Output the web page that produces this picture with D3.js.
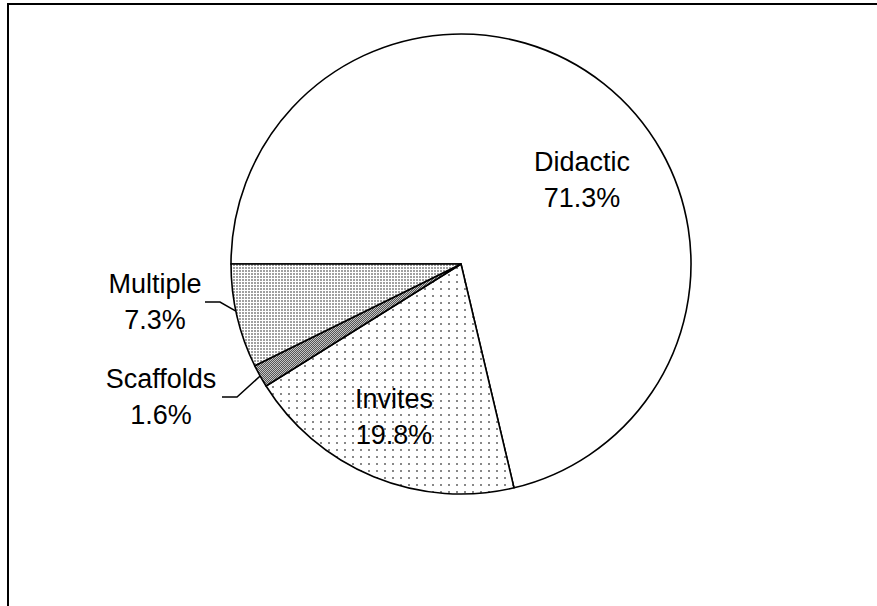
<!DOCTYPE html>
<html>
<head>
<meta charset="utf-8">
<script src="https://cdn.jsdelivr.net/npm/d3@7"></script>
<style>
html,body{margin:0;padding:0;background:#fff;}
svg{display:block;}
text{font-family:"Liberation Sans",Arial,sans-serif;fill:#000;}
</style>
</head>
<body>
<svg id="chart" width="877" height="606"></svg>
<script>
const categories = ["Didactic", "Invites", "Scaffolds", "Multiple"];
const values = [71.3, 19.8, 1.6, 7.3];
const valueLabels = ["71.3%", "19.8%", "1.6%", "7.3%"];

const W = 877, H = 606;
const cx = 461, cy = 264, R = 230;
const svg = d3.select("#chart");

// patterns
const defs = svg.append("defs");
const pMult = defs.append("pattern").attr("id","pMultiple").attr("patternUnits","userSpaceOnUse").attr("width",3).attr("height",3);
pMult.append("rect").attr("width",3).attr("height",3).attr("fill","#fff");
pMult.append("rect").attr("width",2).attr("height",2).attr("fill","#a0a0a0");

const pScaf = defs.append("pattern").attr("id","pScaffolds").attr("patternUnits","userSpaceOnUse").attr("width",2).attr("height",2);
pScaf.append("rect").attr("width",2).attr("height",2).attr("fill","#c4c4c4");
pScaf.append("rect").attr("width",1).attr("height",1).attr("fill","#555");
pScaf.append("rect").attr("x",1).attr("y",1).attr("width",1).attr("height",1).attr("fill","#555");

const pInv = defs.append("pattern").attr("id","pInvites").attr("patternUnits","userSpaceOnUse").attr("width",8).attr("height",7);
pInv.append("rect").attr("width",8).attr("height",7).attr("fill","#fff");
pInv.append("rect").attr("x",3).attr("y",3).attr("width",2).attr("height",2).attr("fill","#888");

const fills = {"Didactic":"#fff","Invites":"url(#pInvites)","Scaffolds":"url(#pScaffolds)","Multiple":"url(#pMultiple)"};

// frame (plot area border, extends beyond the visible window)
svg.append("rect").attr("x",8).attr("y",4).attr("width",W+20).attr("height",H+20)
  .attr("fill","none").attr("stroke","#000").attr("stroke-width",2);

const data = categories.map((c,i)=>({cat:c, value:values[i], label:valueLabels[i]}));
const pie = d3.pie().value(d=>d.value).sort(null).startAngle(-Math.PI/2).endAngle(3*Math.PI/2);
const arcs = pie(data);
const arc = d3.arc().innerRadius(0).outerRadius(R);

const g = svg.append("g").attr("transform",`translate(${cx},${cy})`);
g.selectAll("path").data(arcs).join("path")
  .attr("d",arc)
  .attr("fill",d=>fills[d.data.cat])
  .attr("stroke","#000").attr("stroke-width",1.6).attr("stroke-linejoin","round");

// labels
const fs = 27;
const labelPos = {
  "Didactic": {x:582, y:171},
  "Invites": {x:394, y:408},
  "Multiple": {x:155, y:293},
  "Scaffolds": {x:161, y:388}
};
const lineGap = 36;
arcs.forEach(a=>{
  const p = labelPos[a.data.cat];
  const t = svg.append("text").attr("text-anchor","middle").attr("font-size",fs);
  t.append("tspan").attr("x",p.x).attr("y",p.y).text(a.data.cat);
  t.append("tspan").attr("x",p.x).attr("y",p.y+lineGap).text(a.data.label);
});

// leader lines: end on the pie edge at the slice's angular position
function edgePoint(cat, frac){
  const a = arcs.find(d=>d.data.cat===cat);
  const ang = a.startAngle + (a.endAngle-a.startAngle)*frac;
  return [cx + R*Math.sin(ang), cy - R*Math.cos(ang)];
}
const mEnd = edgePoint("Multiple", 0.55);
svg.append("polyline").attr("fill","none").attr("stroke","#000").attr("stroke-width",1.5)
  .attr("points",`205,302 220,302 ${mEnd[0]},${mEnd[1]}`);
const sEnd = edgePoint("Scaffolds", 0.5);
svg.append("polyline").attr("fill","none").attr("stroke","#000").attr("stroke-width",1.5)
  .attr("points",`222,397 237,397 ${sEnd[0]},${sEnd[1]}`);
</script>
</body>
</html>
